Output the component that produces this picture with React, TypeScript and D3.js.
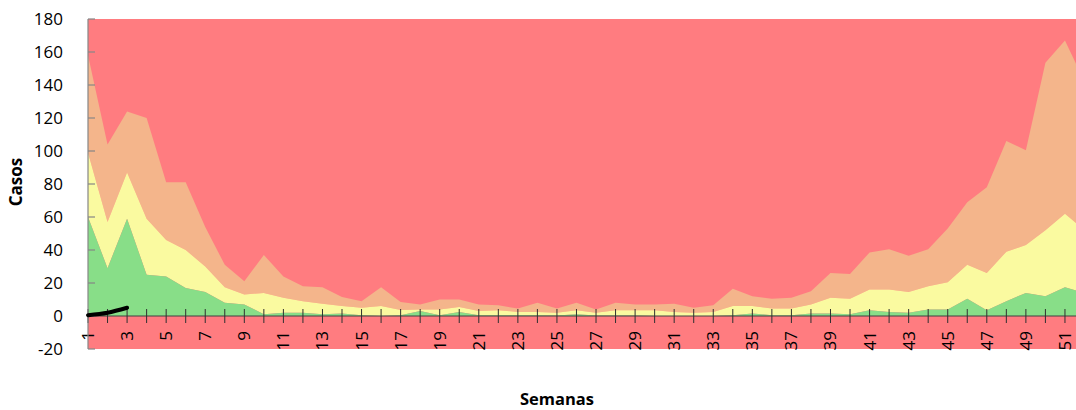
import React from "react";
import * as d3 from "d3";

const weeks: number[] = Array.from({ length: 52 }, (_, i) => i + 1);
// Lower quartile (top of green zone)
const q1: number[] = [60, 29, 59, 25, 24, 17, 14.5, 8, 7, 1, 2, 2, 1, 1.5, 0.5, 0, 0.5, 3, 0.5, 2.5, 0.5, 0.5, 0.5, 0.5, 0.3, 1, 0.3, 0.3, 0.3, 0, 0, 0, 0, 0.5, 1.5, 0.5, 0.5, 1.5, 1.5, 1, 3.5, 2.5, 2, 4, 4, 10.5, 3.5, 9, 14, 12, 17.5, 14];
// Median (top of yellow zone)
const median: number[] = [99, 57, 87, 59, 46, 40, 30, 17.5, 13, 14, 11, 9, 7.5, 6, 5, 6, 3.6, 4, 4, 5.5, 3, 3.5, 2.5, 2.5, 2, 3.5, 2, 3.5, 3.5, 3.5, 2.5, 2, 2.5, 6, 6, 4.5, 4.5, 7, 11, 10.5, 16, 16, 14.5, 18, 20.5, 31, 26, 39, 43, 52, 62, 52];
// Upper quartile (top of alert zone)
const q3: number[] = [158, 104, 124, 120, 81, 81, 54, 31, 21, 37, 24, 18, 17.5, 11.5, 9, 17.5, 8.5, 7, 10, 10, 7, 6.5, 4.5, 8, 4.5, 8, 4, 8, 7, 7, 7.5, 5, 6.5, 16.5, 12, 10.5, 11, 15, 26, 25.5, 38.5, 40.5, 36.5, 40.5, 53, 69, 78, 106, 100.5, 153.5, 167, 142];
// Current year cases
const casos: number[] = [0.5, 2, 5];
const yTicks: number[] = [-20, 0, 20, 40, 60, 80, 100, 120, 140, 160, 180];

const W = 1076;
const H = 410;
const left = 88;
const top = 19;
const bottom = 349;

export default function App() {
  const x = d3.scaleLinear().domain([1, 52]).range([left, 1084.5]);
  const y = d3.scaleLinear().domain([-20, 180]).range([bottom, top]);
  const font = "'Open Sans', sans-serif";

  const band = (lo: (i: number) => number, hi: (i: number) => number) =>
    d3
      .area<number>()
      .x((w) => x(w))
      .y0((_, i) => y(lo(i)))
      .y1((_, i) => y(hi(i)))(weeks) || "";

  const greenPath = band(() => 0, (i) => q1[i]);
  const yellowPath = band((i) => q1[i], (i) => median[i]);
  const salmonPath = band((i) => median[i], (i) => q3[i]);

  const linePath =
    d3
      .line<number>()
      .x((_, i) => x(weeks[i]))
      .y((v) => y(v))
      .curve(d3.curveMonotoneX)(casos) || "";

  const y0 = y(0);

  return (
    <svg
      width={W}
      height={H}
      style={{ position: "absolute", left: 0, top: 0, background: "#fff" }}
      fontFamily={font}
    >
      <defs>
        <clipPath id="plot">
          <rect x={left} y={top} width={W - left} height={bottom - top} />
        </clipPath>
      </defs>
      <rect x={left} y={top} width={W - left} height={bottom - top} fill="#FF7C80" />
      <g clipPath="url(#plot)">
        <path d={salmonPath} fill="#F4B58B" />
        <path d={yellowPath} fill="#FAFAA0" />
        <path d={greenPath} fill="#88DE88" />
      </g>
      {/* x axis line at zero */}
      <line x1={left} x2={W} y1={y0} y2={y0} stroke="#404040" strokeWidth={1.2} />
      {weeks.map((w) => (
        <line key={w} x1={x(w)} x2={x(w)} y1={y0 - 7} y2={y0 + 7} stroke="#303030" strokeWidth={1} />
      ))}
      {weeks
        .filter((w) => w % 2 === 1)
        .map((w) => (
          <text
            key={w}
            transform={`translate(${x(w) + 6},${331}) rotate(-90)`}
            textAnchor="end"
            fontSize={17}
            fill="#000"
          >
            {w}
          </text>
        ))}
      {/* y axis */}
      <line x1={left} x2={left} y1={top} y2={bottom} stroke="#868686" strokeWidth={1.2} />
      {yTicks.map((t) => (
        <g key={t}>
          <line x1={left} x2={left + 7} y1={y(t)} y2={y(t)} stroke="#868686" strokeWidth={1.2} />
          <text x={63} y={y(t)} dy="0.35em" textAnchor="end" fontSize={17} fill="#000">
            {t}
          </text>
        </g>
      ))}
      <path d={linePath} fill="none" stroke="#000" strokeWidth={4} strokeLinecap="round" />
      <text
        transform={`translate(22,182) rotate(-90)`}
        textAnchor="middle"
        fontSize={17}
        fontWeight="bold"
        fill="#000"
      >
        Casos
      </text>
      <text x={557} y={405} textAnchor="middle" fontSize={16.5} fontWeight="bold" fill="#000">
        Semanas
      </text>
    </svg>
  );
}
